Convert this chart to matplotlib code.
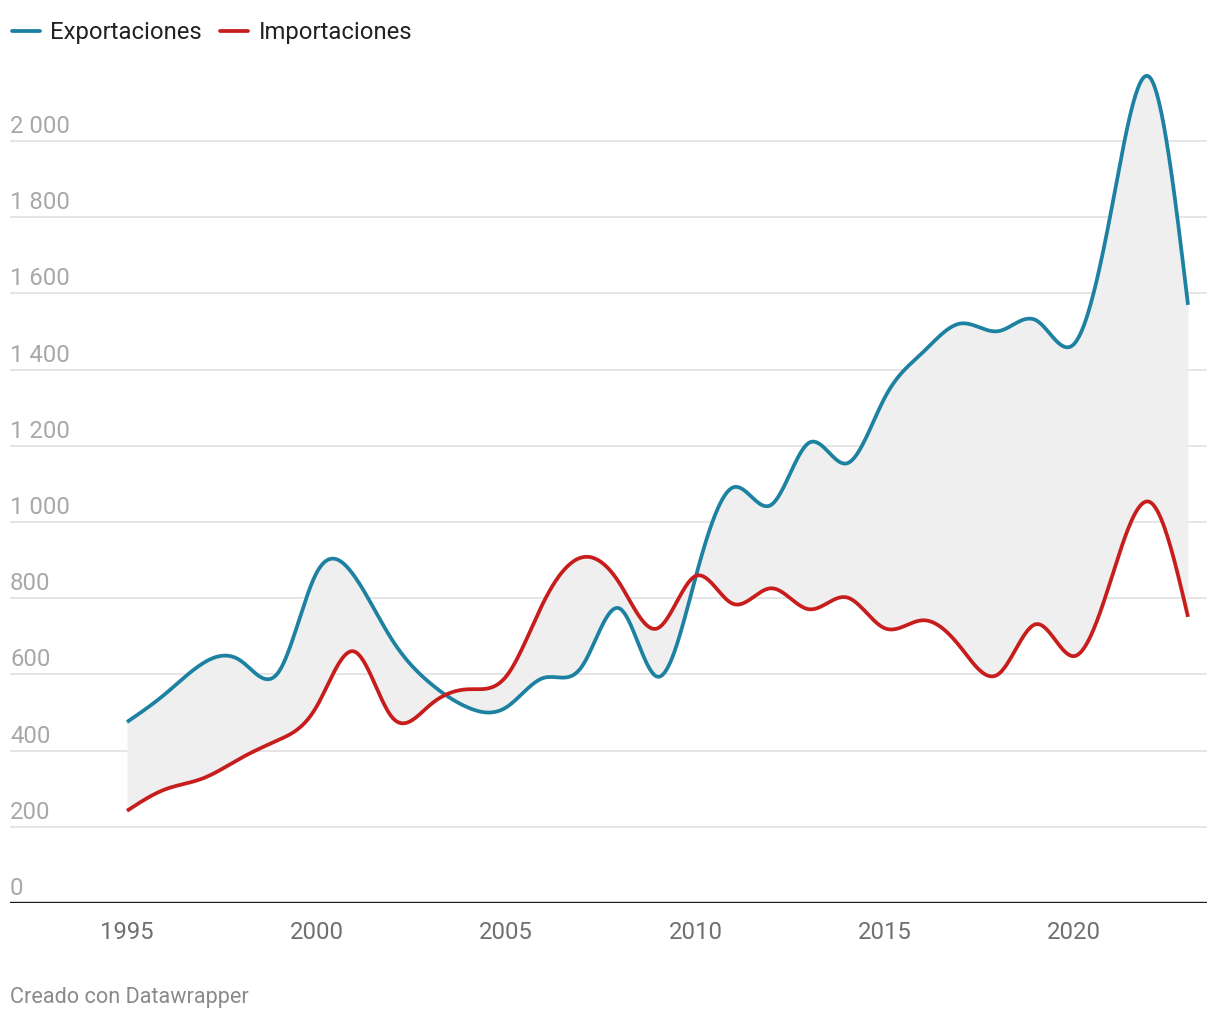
import numpy as np
import matplotlib
matplotlib.use("Agg")
import matplotlib.pyplot as plt
from matplotlib.lines import Line2D

plt.rcParams['font.family'] = ['Roboto', 'DejaVu Sans']

years = list(range(1995, 2024))
exportaciones = [475, 548, 629, 636, 606, 866, 858, 690, 577, 513, 513, 591, 620, 773, 594,
                 853, 1091, 1045, 1208, 1154, 1327, 1445, 1521, 1501, 1529, 1468, 1831, 2166, 1570]
importaciones = [242, 298, 327, 380, 428, 515, 660, 487, 520, 561, 594, 791, 907, 839, 721,
                 858, 785, 826, 771, 802, 721, 742, 671, 601, 732, 648, 859, 1052, 751]
series_names = ["Exportaciones", "Importaciones"]
y_ticks = [0, 200, 400, 600, 800, 1000, 1200, 1400, 1600, 1800, 2000]
y_tick_labels = ["0", "200", "400", "600", "800", "1 000", "1 200", "1 400", "1 600", "1 800", "2 000"]
x_ticks = [1995, 2000, 2005, 2010, 2015, 2020]

BLUE = "#1d81a2"
RED = "#c71e1d"


def natural_spline(xv, yv, n=40):
    x = np.asarray(xv, float)
    v = np.asarray(yv, float)
    N = len(v)
    A = np.zeros((N, N))
    b = np.zeros(N)
    A[0, 0] = 1
    A[-1, -1] = 1
    for i in range(1, N - 1):
        A[i, i - 1] = 1
        A[i, i] = 4
        A[i, i + 1] = 1
        b[i] = 6 * (v[i + 1] - 2 * v[i] + v[i - 1])
    M = np.linalg.solve(A, b)
    t = np.linspace(0, 1, n)
    xs, ys = [], []
    for i in range(N - 1):
        seg = ((1 - t) * v[i] + t * v[i + 1]
               + ((1 - t) ** 3 - (1 - t)) * M[i] / 6 + (t ** 3 - t) * M[i + 1] / 6)
        xx = x[i] + t * (x[i + 1] - x[i])
        if i > 0:
            seg = seg[1:]
            xx = xx[1:]
        xs.append(xx)
        ys.append(seg)
    return np.concatenate(xs), np.concatenate(ys)


W, H = 1220, 1020
fig = plt.figure(figsize=(W / 100, H / 100), dpi=100)
ax_left, ax_right, ax_top, ax_bottom = 10, 1207, 61, 904
ax = fig.add_axes([ax_left / W, 1 - ax_bottom / H, (ax_right - ax_left) / W, (ax_bottom - ax_top) / H])

px_per_year = (1188 - 127) / 28
ax.set_xlim(1995 - (127 - ax_left) / px_per_year, 2023 + (ax_right - 1188) / px_per_year)
ax.set_ylim(0, (ax_bottom - ax_top) / 0.381)

xe, ye = natural_spline(years, exportaciones)
xi, yi = natural_spline(years, importaciones)

ax.fill_between(xe, ye, yi, color="#efefef", lw=0, zorder=1)

for v in y_ticks[1:]:
    ax.axhline(v, color="#e3e3e3", lw=1.3, zorder=0.5)
ax.axhline(0, color="#1a1a1a", lw=1.7, zorder=4)

ax.plot(xe, ye, color=BLUE, lw=2.7, solid_capstyle='butt', zorder=3)
ax.plot(xi, yi, color=RED, lw=2.7, solid_capstyle='butt', zorder=3)

for v, lab in zip(y_ticks, y_tick_labels):
    ax.annotate(lab, xy=(0, v), xycoords=('axes fraction', 'data'),
                xytext=(0, 6.5), textcoords='offset points',
                ha='left', va='baseline', fontsize=17.2, color="#a8a8a8")

for s in ax.spines.values():
    s.set_visible(False)
ax.set_yticks([])
ax.set_xticks(x_ticks)
ax.set_xticklabels([str(x) for x in x_ticks])
ax.tick_params(axis='x', length=0, pad=12, labelsize=17.2, labelcolor="#707070")

# legend
ly = 1 - 32 / H
for (x0, x1, tx), name, col in zip([(12, 40, 50), (220, 248, 259)], series_names, [BLUE, RED]):
    fig.add_artist(Line2D([x0 / W, x1 / W], [ly, ly], transform=fig.transFigure,
                          color=col, lw=2.7, solid_capstyle='round'))
    fig.text(tx / W, 1 - 33 / H, name, ha='left', va='center', fontsize=17.2, color="#222222")

fig.text(10 / W, 1 - 998 / H, "Creado con Datawrapper", ha='left', va='center',
         fontsize=15.6, color="#8a8a8a")

fig.savefig("out.png", dpi=100, facecolor="white")
